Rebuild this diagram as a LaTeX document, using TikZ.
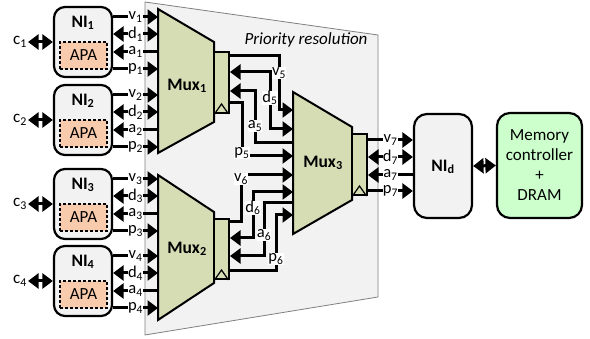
\documentclass[tikz,border=0pt]{standalone}
\usepackage{fontspec}
\setmainfont{Carlito}
\usetikzlibrary{arrows.meta}
\definecolor{muxg}{RGB}{214,220,180}
\definecolor{apaf}{RGB}{248,203,173}
\definecolor{memg}{RGB}{204,255,204}
\definecolor{lgray}{RGB}{242,242,242}
\definecolor{regionline}{RGB}{128,128,128}
\newcommand\lbl[2]{#1\textsubscript{#2}}
\tikzset{
  >={Triangle[length=10.5pt,width=15pt]},
  sig/.style={line width=3pt},
  lab/.style={fill=white, inner sep=0.3pt, font=\fontsize{16.5}{18}\selectfont},
  nibox/.style={draw, line width=2.2pt, fill=lgray, rounded corners=11pt,
    minimum width=58pt, minimum height=70pt, inner sep=0pt},
  apabox/.style={draw, line width=1.6pt, dash pattern=on 3pt off 2pt, fill=apaf,
    minimum width=47pt, minimum height=27pt, inner sep=0pt},
  muxst/.style={draw, line width=2pt, fill=muxg, line join=miter},
  reg/.style={draw, line width=2pt, fill=muxg, minimum width=15pt, inner sep=0pt},
  clk/.style={line width=1.2pt},
  region/.style={fill=lgray, draw=regionline, line width=0.8pt},
  bigbox/.style={draw, line width=2.2pt, rounded corners=13pt, inner sep=0pt, align=center},
  boldlab/.style={font=\fontsize{17.5}{20}\selectfont\bfseries},
}
\begin{document}
\begin{tikzpicture}[x=1pt,y=-1pt,font=\fontsize{17}{20}\selectfont]
\useasboundingbox (0,0) rectangle (590,339);
% priority resolution region
\path[region] (145,2) -- (378,35) -- (378,297) -- (145,335) -- cycle;
\node[font=\fontsize{17}{20}\selectfont\itshape] (prio) at (306,40) {Priority resolution};

% edge coordinates of the muxes
\coordinate (m1in) at (158,0);
\coordinate (m3in) at (293,0);

% NI boxes
\foreach \i/\t in {1/7,2/85,3/169,4/246}{
  \node[nibox] (ni\i) at (83,\t+35) {};
  \node[boldlab] (nit\i) at (83,\t+16) {\lbl{NI}{\i}};
  \node[apabox] (apa\i) at (83.5,\t+48.5) {APA};
  \node[inner sep=1pt] (c\i) at (20,\t+35) {\lbl{c}{\i}};
  \draw[sig,<->] (c\i) -- (ni\i);
  \draw[sig,->] (ni\i.east |- 0,\t+10) -- node[lab]{\lbl{v}{\i}} (m1in |- 0,\t+10);
  \draw[sig,<->] (ni\i.east |- 0,\t+27) -- node[lab]{\lbl{d}{\i}} (m1in |- 0,\t+27);
  \draw[sig,<-] (ni\i.east |- 0,\t+45) -- node[lab]{\lbl{a}{\i}} (m1in |- 0,\t+45);
  \draw[sig,->] (ni\i.east |- 0,\t+62) -- node[lab]{\lbl{p}{\i}} (m1in |- 0,\t+62);
}

% Mux1
\path[muxst] (158,9) -- (214,42) -- (214,122) -- (158,153) -- cycle;
\node[boldlab] (mux1) at (187,86) {\lbl{Mux}{1}};
\node[reg, minimum height=61pt] (r1) at (221.5,82.5) {};
\draw[clk] ([xshift=1.5pt]r1.south west) -- ([yshift=10pt]r1.south) -- ([xshift=-1.5pt]r1.south east);

% Mux2
\path[muxst] (158,175) -- (214,212) -- (214,283) -- (158,320) -- cycle;
\node[boldlab] (mux2) at (187,249) {\lbl{Mux}{2}};
\node[reg, minimum height=60pt] (r2) at (221.5,249) {};
\draw[clk] ([xshift=1.5pt]r2.south west) -- ([yshift=10pt]r2.south) -- ([xshift=-1.5pt]r2.south east);

% Mux3
\path[muxst] (293,92) -- (352,127) -- (352,200) -- (293,234) -- cycle;
\node[boldlab] (mux3) at (323,163) {\lbl{Mux}{3}};
\node[reg, minimum height=61pt] (r3) at (359.5,164.5) {};
\draw[clk] ([xshift=1.5pt]r3.south west) -- ([yshift=10pt]r3.south) -- ([xshift=-1.5pt]r3.south east);

% Mux1 -> Mux3
\draw[sig,->] (r1.east |- 0,56) -| (279,110) -- (m3in |- 0,110);
\draw[sig,<->] (r1.east |- 0,72) -| (270,129) -- (m3in |- 0,129);
\draw[sig,<-] (r1.east |- 0,91) -| (255,143) -- (m3in |- 0,143);
\draw[sig,->] (r1.east |- 0,103) -| (242,156) -- (m3in |- 0,156);
\node[lab] (v5) at (279,73) {\lbl{v}{5}};
\node[lab] (d5) at (270,98) {\lbl{d}{5}};
\node[lab] (a5) at (255,126) {\lbl{a}{5}};
\node[lab] (p5) at (242,153) {\lbl{p}{5}};

% Mux2 -> Mux3
\draw[sig,->] (r2.east |- 0,222) -| (241,175) -- (m3in |- 0,175);
\draw[sig,<->] (r2.east |- 0,238) -| (253,192) -- (m3in |- 0,192);
\draw[sig,<-] (r2.east |- 0,256) -| (264,203) -- (m3in |- 0,203);
\draw[sig,->] (r2.east |- 0,271) -| (276,215) -- (m3in |- 0,215);
\node[lab] (v6) at (241,179) {\lbl{v}{6}};
\node[lab] (d6) at (253,208) {\lbl{d}{6}};
\node[lab] (a6) at (264,235) {\lbl{a}{6}};
\node[lab] (p6) at (276,259) {\lbl{p}{6}};

% NI_d and memory
\node[bigbox, fill=lgray, minimum width=58pt, minimum height=104pt] (nid) at (443,166) {};
\node[boldlab] (nidt) at (443,167) {\lbl{NI}{d}};
\node[bigbox, fill=memg, minimum width=85pt, minimum height=105pt] (mem) at (539.5,165.5) {Memory\\controller\\+\\DRAM};
\draw[sig,<->] (nid.east) -- (mem.west);

% Mux3 -> NI_d
\draw[sig,->] (r3.east |- 0,140) -- node[lab]{\lbl{v}{7}} (nid.west |- 0,140);
\draw[sig,<->] (r3.east |- 0,157) -- node[lab]{\lbl{d}{7}} (nid.west |- 0,157);
\draw[sig,<-] (r3.east |- 0,175) -- node[lab]{\lbl{a}{7}} (nid.west |- 0,175);
\draw[sig,->] (r3.east |- 0,191) -- node[lab]{\lbl{p}{7}} (nid.west |- 0,191);
\end{tikzpicture}
\end{document}
